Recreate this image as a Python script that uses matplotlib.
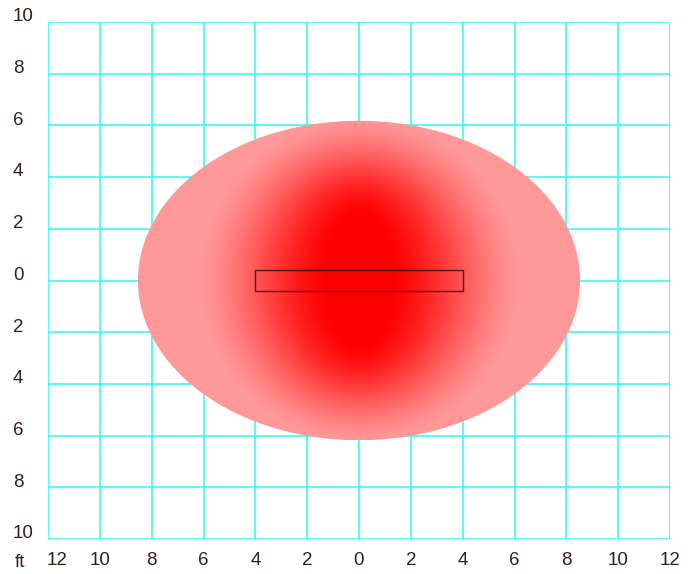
import numpy as np
import matplotlib
matplotlib.use('Agg')
import matplotlib.pyplot as plt
from matplotlib.patches import Ellipse, Rectangle

# zone shape (ft)
ELLIPSE_HALF_W = 8.53
ELLIPSE_HALF_H = 6.18
CORE_HALF = [1.3, 2.6]    # solid red core (half width, half height)
FADE_HALF = [6.2, 6.3]    # fully faded to pink here
RECT_X = [-4.0, 4.0]
RECT_Y = [-0.42, 0.42]

x_ticks = [-12, -10, -8, -6, -4, -2, 0, 2, 4, 6, 8, 10, 12]
y_ticks = [-10, -8, -6, -4, -2, 0, 2, 4, 6, 8, 10]
x_labels = [str(abs(v)) for v in x_ticks]
y_labels = [str(abs(v)) for v in y_ticks]

text_color = '#3a1c1c'
grid_color = '#3cf8f8'

fig = plt.figure(figsize=(6.98, 5.74), dpi=100, facecolor='white')
ax = fig.add_axes([48 / 698, 1 - 539 / 574, 622 / 698, 517 / 574])
ax.set_xlim(-12, 12)
ax.set_ylim(-10, 10)
for s in ax.spines.values():
    s.set_visible(False)

for v in x_ticks:
    ax.axvline(v, color=grid_color, linewidth=1.2, zorder=1)
for v in y_ticks:
    ax.axhline(v, color=grid_color, linewidth=1.2, zorder=1)

# gradient between core ellipse and fade ellipse, found by bisection
xs = np.linspace(-ELLIPSE_HALF_W, ELLIPSE_HALF_W, 500)
ys = np.linspace(-ELLIPSE_HALF_H, ELLIPSE_HALF_H, 400)
X, Y = np.meshgrid(xs, ys)
lo = np.zeros_like(X)
hi = np.ones_like(X)
for _ in range(30):
    mid = (lo + hi) / 2
    a = CORE_HALF[0] + mid * (FADE_HALF[0] - CORE_HALF[0])
    b = CORE_HALF[1] + mid * (FADE_HALF[1] - CORE_HALF[1])
    inside = (X / a) ** 2 + (Y / b) ** 2 <= 1
    hi = np.where(inside, mid, hi)
    lo = np.where(inside, lo, mid)
s = (lo + hi) / 2
s[(X / CORE_HALF[0]) ** 2 + (Y / CORE_HALF[1]) ** 2 <= 1] = 0
s[(X / FADE_HALF[0]) ** 2 + (Y / FADE_HALF[1]) ** 2 > 1] = 1
s = s * s * (3 - 2 * s) * 0.5 + s * 0.5   # soften both ends a bit

img = np.ones((len(ys), len(xs), 3))
img[..., 1] = 0.6 * s
img[..., 2] = 0.6 * s
im = ax.imshow(img, extent=[xs[0], xs[-1], ys[0], ys[-1]], origin='lower',
               interpolation='bilinear', zorder=2, aspect='auto')
ell = Ellipse((0, 0), 2 * ELLIPSE_HALF_W, 2 * ELLIPSE_HALF_H,
              facecolor='none', edgecolor='none')
ax.add_patch(ell)
im.set_clip_path(ell)

ax.add_patch(Rectangle((RECT_X[0], RECT_Y[0]), RECT_X[1] - RECT_X[0], RECT_Y[1] - RECT_Y[0],
                       facecolor='none', edgecolor='black', alpha=0.7,
                       linewidth=1.0, zorder=3))

ax.set_xticks([])
ax.set_yticks([])
font = dict(family=['Liberation Sans', 'DejaVu Sans'], fontsize=13.5, color=text_color)
for v, lab in zip(x_ticks, x_labels):
    dx = 0.35 if v == -12 else 0
    ax.text(v + dx, -10.85, lab, ha='center', va='center', **font)
for v, lab in zip(y_ticks, y_labels):
    ax.text(-13.35, v + 0.2, lab, ha='left', va='center', **font)
ax.text(-13.3, -10.9, 'ft', ha='left', va='center', **font)

fig.savefig('out.png', dpi=100)
